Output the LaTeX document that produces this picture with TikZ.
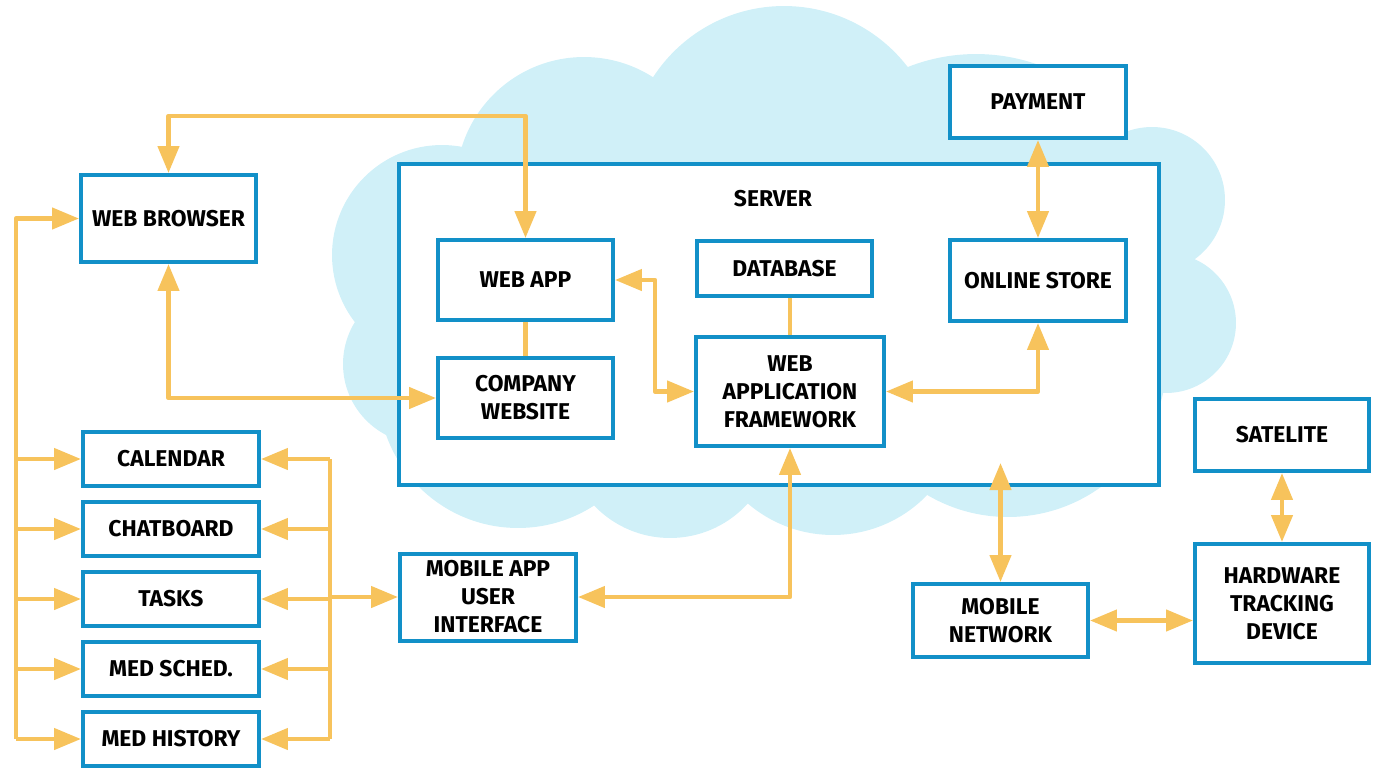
\documentclass[tikz,border=0pt]{standalone}
\usepackage{fontspec}
\newfontfamily\lblfont{Fira Sans}
\usetikzlibrary{arrows.meta,calc}
\definecolor{bblue}{RGB}{18,144,200}
\definecolor{aorange}{RGB}{247,195,92}
\definecolor{cloudc}{RGB}{208,240,248}
\tikzset{
  lbltext/.style={font=\lblfont\bfseries\fontsize{13}{15.9}\selectfont},
  box/.style={draw=bblue, line width=0.08cm, fill=white, inner sep=0pt, align=center, lbltext},
  conn/.style={draw=aorange, line width=0.09cm, line join=round},
  arr/.style={conn, -{Triangle[length=0.54cm,width=0.42cm]}},
  biarr/.style={conn, {Triangle[length=0.54cm,width=0.42cm]}-{Triangle[length=0.54cm,width=0.42cm]}},
}
\begin{document}
\begin{tikzpicture}[x=0.02cm,y=-0.02cm]
\useasboundingbox (0,0) rectangle (1384,782);
% cloud
\fill[cloudc] (584,185) circle[radius=2.56cm]
  (784,162) circle[radius=3.12cm]
  (976,239) circle[radius=3.70cm]
  (1152,200) circle[radius=1.46cm]
  (1166,323) circle[radius=1.40cm]
  (1008,358) circle[radius=3.18cm]
  (833,404) circle[radius=2.62cm]
  (670,433) circle[radius=2.10cm]
  (518,388) circle[radius=2.80cm]
  (423,364) circle[radius=1.60cm]
  (442,255) circle[radius=2.20cm]
  (400,165) rectangle (1160,485);
% server
\node[box, minimum width=15.2cm, minimum height=6.42cm] (server) at (779,324.5) {};
\node[lbltext] (serverlbl) at (773,199) {SERVER};
% nodes
\node[box, minimum width=3.50cm, minimum height=1.74cm] (wb) at (168.5,218.5) {WEB BROWSER};
\node[box, minimum width=3.50cm, minimum height=1.60cm] (webapp) at (525.5,280) {WEB APP};
\node[box, minimum width=3.50cm, minimum height=1.60cm] (company) at (525.5,398) {COMPANY\\WEBSITE};
\node[box, minimum width=3.50cm, minimum height=1.10cm] (db) at (784.5,268.5) {DATABASE};
\node[box, minimum width=3.76cm, minimum height=2.18cm] (waf) at (790,391.5) {WEB\\APPLICATION\\FRAMEWORK};
\node[box, minimum width=3.52cm, minimum height=1.62cm] (store) at (1038,280.5) {ONLINE STORE};
\node[box, minimum width=3.52cm, minimum height=1.44cm] (payment) at (1038,102) {PAYMENT};
\node[box, minimum width=3.52cm, minimum height=1.74cm] (mobapp) at (488,597) {MOBILE APP\\USER\\INTERFACE};
\node[box, minimum width=3.52cm, minimum height=1.08cm] (cal) at (171,459) {CALENDAR};
\node[box, minimum width=3.52cm, minimum height=1.08cm] (chat) at (171,529) {CHATBOARD};
\node[box, minimum width=3.52cm, minimum height=1.08cm] (tasks) at (171,599) {TASKS};
\node[box, minimum width=3.52cm, minimum height=1.08cm] (medsch) at (171,669) {MED SCHED.};
\node[box, minimum width=3.52cm, minimum height=1.08cm] (medhist) at (171,739) {MED HISTORY};
\node[box, minimum width=3.50cm, minimum height=1.46cm] (mobnet) at (1000.5,620.5) {MOBILE\\NETWORK};
\node[box, minimum width=3.48cm, minimum height=1.44cm] (sat) at (1282,435) {SATELITE};
\node[box, minimum width=3.48cm, minimum height=2.38cm] (htd) at (1282,603.5) {HARDWARE\\TRACKING\\DEVICE};
% coordinates
\coordinate (t1) at (168.5,116);
\coordinate (t2) at (525.5,116);
\coordinate (lb) at (16,739);
\coordinate (rb) at (330,599);
\coordinate (j1) at (655,280);
\coordinate (mnTop) at (1000.5,463);
% connectors
\draw[biarr] (wb.north) -- (t1) -- (t2) -- (webapp.north);
\draw[biarr] (wb.south) |- (company.west);
\draw[conn] (webapp.south) -- (company.north);
\draw[arr] (lb) |- (wb.west);
\draw[arr] (cal.west -| lb) -- (cal.west);
\draw[arr] (chat.west -| lb) -- (chat.west);
\draw[arr] (tasks.west -| lb) -- (tasks.west);
\draw[arr] (medsch.west -| lb) -- (medsch.west);
\draw[arr] (lb) -- (medhist.west);
\draw[conn] (cal.east -| rb) -- (medhist.east -| rb);
\draw[arr] (cal.east -| rb) -- (cal.east);
\draw[arr] (chat.east -| rb) -- (chat.east);
\draw[arr] (rb) -- (tasks.east);
\draw[arr] (medsch.east -| rb) -- (medsch.east);
\draw[arr] (medhist.east -| rb) -- (medhist.east);
\draw[arr] (rb |- mobapp.west) -- (mobapp.west);
\draw[biarr] (mobapp.east) -| (waf.south);
\draw[biarr] (webapp.east) -- (j1) |- (waf.west);
\draw[biarr] (waf.east) -| (store.south);
\draw[conn] (waf.north) -- (waf.north |- db.south);
\draw[biarr] (payment.south) -- (store.north);
\draw[biarr] (mobnet.north) -- (mnTop);
\draw[biarr] (sat.south) -- (htd.north);
\draw[biarr] (mobnet.east) -- (mobnet.east -| htd.west);
\end{tikzpicture}
\end{document}
